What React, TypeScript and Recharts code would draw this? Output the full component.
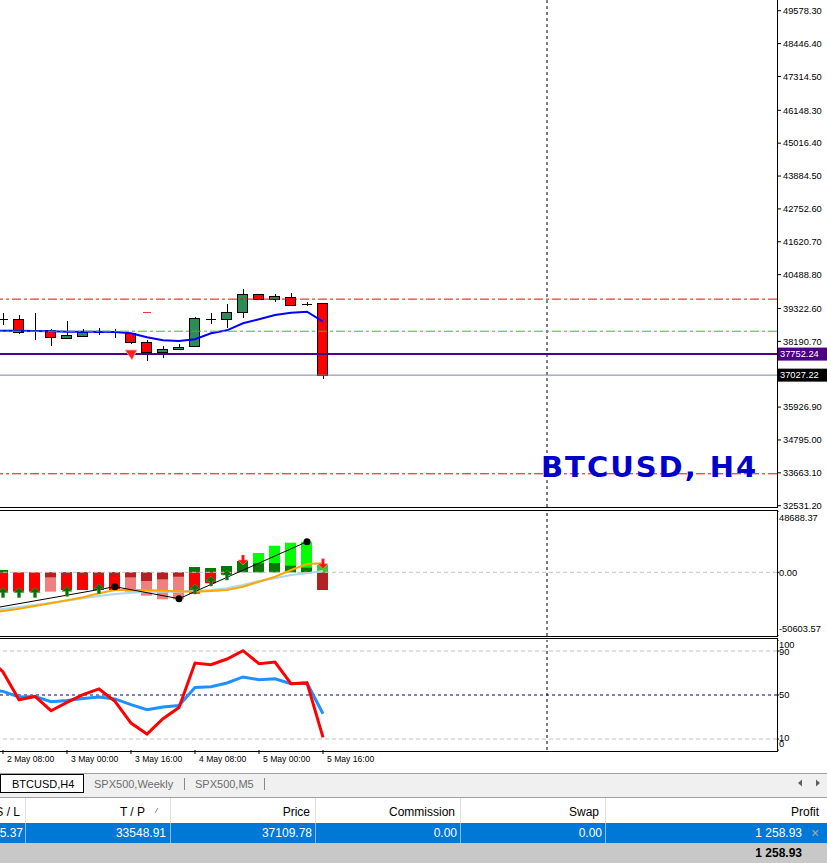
import React from 'react'
import { ComposedChart, Bar, Line, XAxis, YAxis, ReferenceLine, Scatter } from 'recharts'

// H4 bars, index 0 = 2 May 08:00, index -1 is the bar cut at the left edge
const barIndex = [-1, 0, 1, 2, 3, 4, 5, 6, 7, 8, 9, 10, 11, 12, 13, 14, 15, 16, 17, 18, 19, 20]

const opens = [null, 38960, 38951, 38545, 38582, 38283, 38400, 38525, 38510, 38469, 38159, 37825, 37918, 38031, 38960, 38951, 39192, 39812, 39640, 39729, 39470, 39502]
const highs = [null, 39157, 39109, 39178, 38600, 38892, 38617, 38641, 38606, 38480, 38238, 38021, 38090, 39020, 39157, 39478, 39994, 39830, 39812, 39846, 39540, 39502]
const lows = [null, 38754, 38434, 38238, 38042, 38270, 38390, 38410, 38297, 38100, 37525, 37628, 37876, 37987, 38779, 38641, 38985, 39620, 39557, 39409, 39409, 36884]
const closes = [null, 38962, 38503, 38520, 38331, 38400, 38524, 38530, 38500, 38159, 37814, 37918, 37987, 38985, 38975, 39192, 39812, 39640, 39753, 39467, 39480, 37027]
const maValues = [38560, 38558, 38558, 38548, 38537, 38524, 38524, 38524, 38514, 38469, 38331, 38227, 38203, 38262, 38469, 38570, 38813, 38950, 39098, 39178, 39213, 38868]

// small marks on the price window
const dashIdx = [9]
const dashVal = [39192]
const sellIdx = [8]
const sellVal = [37721]

const priceTicks = [49578.3, 48446.4, 47314.5, 46148.3, 45016.4, 43884.5, 42752.6, 41620.7, 40488.8, 39322.6, 38190.7, 35926.9, 34795.0, 33663.1, 32531.2]
const stopLoss = 39645.37
const openLevel = 38540
const askLevel = 37752.24
const bidLevel = 37027.22
const takeProfit = 33630
const vLineIdx = 34

// histogram window
const histCoral = [null, null, null, null, -15410, null, null, null, null, -15410, -18590, -21450, -21450, null, null, null, null, null, null, null, null, null]
const histRed = [null, -15400, -15400, -15400, null, -14060, -14060, -14060, -14060, null, null, null, null, -17000, -8740, null, null, null, null, null, null, null]
const histLime = [null, null, null, null, null, null, null, null, null, null, null, null, null, null, null, null, null, 15330, 21130, 23510, 24300, null]
const histDarkRed = [null, null, null, null, -3970, -2650, -2650, -2650, -2650, -3970, -6910, -5560, -3490, null, null, -2000, null, null, null, null, null, -14060]
const histDarkGreen = [null, 1830, null, null, null, null, null, null, null, null, null, null, null, 4210, 3420, 5000, 8980, 7150, 7390, 5240, 3650, null]
const histLimeGreen = [null, null, null, null, null, null, null, null, null, null, null, null, null, null, null, null, null, null, null, null, null, 5800]
const orangeLine = [-32330, -30740, -28910, -26770, -24620, -22240, -19860, -16680, -14060, -14060, -14060, -14610, -15090, -15410, -14850, -14060, -11440, -7470, -3490, 1830, 6590, 7150]
const blueLine = [-30740, -29150, -27560, -25970, -24150, -22560, -20650, -18830, -17240, -16200, -15410, -15410, -15410, -14850, -14060, -12710, -10090, -6910, -4770, -2140, -790, 1030]
const zigzag = [-29390, null, null, null, null, null, null, null, -11440, null, null, null, -20970, null, null, null, null, null, null, null, 24305, null]
const upArrowIdx = [0, 1, 2, 4, 6, 12, 13, 14]
const upArrowVal = [-16040, -16040, -16040, -15090, -13030, -13260, -6910, -2140]
const downArrowIdx = [15, 20]
const downArrowVal = [9770, 6750]

// oscillator window
const rsiRed = [85, 71, 45.7, 48.7, 35.7, 43.3, 50.3, 55.5, 44.2, 24.5, 14.5, 28.5, 38.7, 79, 77.5, 82.7, 90.3, 78.5, 80, 60.3, 61, 11.5]
const rsiBlue = [55, 53.3, 48.2, 48.7, 43.9, 45.1, 46.9, 48.2, 46.4, 41.2, 36.6, 39.1, 40.5, 56.9, 57.5, 60.9, 66.4, 63.9, 64.8, 60.3, 60.9, 33]

const timeTicks = [0, 4, 8, 12, 16, 20]
const timeLabels = ['2 May 08:00', '3 May 00:00', '3 May 16:00', '4 May 08:00', '5 May 00:00', '5 May 16:00']

const X_DOMAIN: [number, number] = [-0.1875, 48.375]
const FONT = '"Liberation Sans", Arial, sans-serif'

const mainRows = barIndex.map((i, k) => ({ i, open: opens[k], high: highs[k], low: lows[k], close: closes[k], ma: maValues[k] }))
const histRows = barIndex.map((i, k) => ({
  i,
  coral: histCoral[k],
  red: histRed[k],
  lime: histLime[k],
  darkRed: histDarkRed[k],
  darkGreen: histDarkGreen[k],
  limeGreen: histLimeGreen[k],
  orange: orangeLine[k],
  blue: blueLine[k],
  zig: zigzag[k],
}))
const rsiRows = barIndex.map((i, k) => ({ i, red: rsiRed[k], blue: rsiBlue[k] }))

function Candle(props: any) {
  const { x, y, width, height, payload } = props
  if (!payload || payload.high == null || !height) return <g />
  const { open, close, high, low } = payload
  const y0 = Math.min(y, y + height)
  const h = Math.abs(height)
  const py = (v: number) => y0 + ((high - v) / (high - low)) * h
  const cx = Math.round(x + width / 2) + 0.5
  const left = Math.round(x) + 0.5
  const right = left + Math.round(width) - 1
  const top = py(Math.max(open, close))
  const bottom = py(Math.min(open, close))
  const bull = close > open
  return (
    <g shapeRendering="crispEdges">
      <line x1={cx} x2={cx} y1={y0} y2={y0 + h} stroke="#000" />
      {bottom - top < 1.5 ? (
        <line x1={left} x2={right} y1={Math.round(top) + 0.5} y2={Math.round(top) + 0.5} stroke="#000" />
      ) : (
        <rect
          x={left}
          y={Math.round(top) + 0.5}
          width={right - left}
          height={Math.max(1, Math.round(bottom - top))}
          fill={bull ? '#2e8b57' : '#ff0000'}
          stroke="#000"
        />
      )}
    </g>
  )
}

function PriceTag({ viewBox, value, bg }: any) {
  if (!viewBox) return <g />
  const x = viewBox.x + viewBox.width + 1
  const y = viewBox.y
  return (
    <g>
      <rect x={x} y={y - 6.5} width={49} height={13} fill={bg} />
      <text x={x + 2} y={y} dy="0.35em" fontSize={9.3} fontFamily={FONT} fill="#fff">
        {value.toFixed(2)}
      </text>
    </g>
  )
}

function SideTick(props: any) {
  const { x, y, payload, shifts, digits } = props
  const dy = shifts[String(payload.value)] ?? 0
  const label = digits ? Number(payload.value).toFixed(digits) : String(payload.value)
  return (
    <text x={x} y={y + dy} dy="0.35em" fontSize={9.3} fontFamily={FONT} fill="#000">
      {label}
    </text>
  )
}

function TimeTick(props: any) {
  const { x, y, payload } = props
  const k = timeTicks.indexOf(payload.value)
  return (
    <text x={x + 4} y={y + 5.5} fontSize={8.6} fontFamily={FONT} fill="#000">
      {timeLabels[k]}
    </text>
  )
}

function UpArrow({ cx, cy }: any) {
  if (cx == null) return <g />
  return (
    <path
      d={`M${cx} ${cy - 5} L${cx + 5} ${cy} L${cx + 1.5} ${cy} L${cx + 1.5} ${cy + 5} L${cx - 1.5} ${cy + 5} L${cx - 1.5} ${cy} L${cx - 5} ${cy} Z`}
      fill="#0a6e0a"
      stroke="#3aa23a"
      strokeWidth={0.6}
    />
  )
}

function DownArrow({ cx, cy }: any) {
  if (cx == null) return <g />
  return (
    <path
      d={`M${cx} ${cy + 5} L${cx + 5} ${cy} L${cx + 1.5} ${cy} L${cx + 1.5} ${cy - 5} L${cx - 1.5} ${cy - 5} L${cx - 1.5} ${cy} L${cx - 5} ${cy} Z`}
      fill="#ff1010"
      stroke="#ff9090"
      strokeWidth={0.6}
    />
  )
}

function RedDash({ cx, cy }: any) {
  if (cx == null) return <g />
  return <line x1={cx - 4} x2={cx + 4} y1={Math.round(cy) + 0.5} y2={Math.round(cy) + 0.5} stroke="#ff3030" />
}

function SellMark({ cx, cy }: any) {
  if (cx == null) return <g />
  return <path d={`M${cx - 6} ${cy - 5} L${cx + 6} ${cy - 5} L${cx + 1} ${cy + 5} Z`} fill="#ff2020" stroke="#ffb0b0" strokeWidth={0.8} />
}

function ZigDot(props: any) {
  const { cx, cy, value, payload, index } = props
  if (value == null || payload.i < 0 || cx == null) return <g key={`z${index}`} />
  return <circle key={`z${index}`} cx={cx} cy={cy} r={3.5} fill="#000" />
}

function MainChart() {
  return (
    <ComposedChart width={827} height={512} data={mainRows} margin={{ top: 0, right: 0, bottom: 5, left: 0 }}>
      <XAxis type="number" dataKey="i" domain={X_DOMAIN} allowDataOverflow hide />
      <YAxis
        orientation="right"
        type="number"
        domain={[32486, 49947]}
        allowDataOverflow
        ticks={priceTicks}
        interval={0}
        width={50}
        tickSize={4}
        tickMargin={2}
        axisLine={false}
        tickLine={{ stroke: '#000' }}
        tick={{ fontSize: 9.3, fontFamily: FONT, fill: '#000' }}
        tickFormatter={(v: number) => v.toFixed(2)}
      />
      <ReferenceLine x={vLineIdx} stroke="#000" strokeDasharray="3 3" />
      <Bar
        dataKey={(d: any) => (d.high == null ? null : [d.low, d.high])}
        barSize={11}
        shape={(p: any) => <Candle {...p} />}
        isAnimationActive={false}
      />
      <Line type="linear" dataKey="ma" stroke="#0000ff" strokeWidth={2} dot={false} isAnimationActive={false} />
      <ReferenceLine y={stopLoss} stroke="#ff0000" strokeDasharray="9 3 3 3" />
      <ReferenceLine y={openLevel} stroke="#22cc22" strokeDasharray="9 3 3 3" />
      <ReferenceLine y={takeProfit} stroke="#ff0000" strokeDasharray="9 3 3 3" />
      <ReferenceLine y={bidLevel} stroke="#778899" label={(p: any) => <PriceTag {...p} value={bidLevel} bg="#000" />} />
      <ReferenceLine y={askLevel} stroke="#4b0082" strokeWidth={2} label={(p: any) => <PriceTag {...p} value={askLevel} bg="#4b0082" />} />
      <Scatter data={dashIdx.map((i, k) => ({ i, v: dashVal[k] }))} dataKey="v" shape={RedDash} isAnimationActive={false} />
      <Scatter data={sellIdx.map((i, k) => ({ i, v: sellVal[k] }))} dataKey="v" shape={SellMark} isAnimationActive={false} />
    </ComposedChart>
  )
}

function HistChart() {
  const ids = ['a', 'b', 'c', 'd', 'e', 'f']
  return (
    <ComposedChart width={827} height={125} data={histRows} margin={{ top: 0, right: 0, bottom: 0, left: 0 }}>
      {ids.map(id => (
        <XAxis key={id} xAxisId={id} type="number" dataKey="i" domain={X_DOMAIN} allowDataOverflow hide />
      ))}
      <YAxis
        orientation="right"
        type="number"
        domain={[-50603.57, 48688.37]}
        allowDataOverflow
        ticks={[48688.37, 0, -50603.57]}
        interval={0}
        width={50}
        tickSize={2}
        tickMargin={0}
        axisLine={false}
        tickLine={{ stroke: '#000' }}
        tick={<SideTick shifts={{ '48688.37': 7, '-50603.57': -7 }} digits={2} />}
      />
      <ReferenceLine xAxisId="a" y={0} stroke="#c0c0c0" strokeDasharray="4 3" />
      <ReferenceLine xAxisId="a" x={vLineIdx} stroke="#000" strokeDasharray="3 3" />
      <Bar xAxisId="a" dataKey="coral" fill="#f08080" barSize={11} isAnimationActive={false} />
      <Bar xAxisId="b" dataKey="red" fill="#ff0000" barSize={11} isAnimationActive={false} />
      <Bar xAxisId="c" dataKey="lime" fill="#00ff00" barSize={11} isAnimationActive={false} />
      <Bar xAxisId="d" dataKey="darkRed" fill="#b22222" barSize={11} isAnimationActive={false} />
      <Bar xAxisId="e" dataKey="darkGreen" fill="#007a00" barSize={11} isAnimationActive={false} />
      <Bar xAxisId="f" dataKey="limeGreen" fill="#32cd32" barSize={11} isAnimationActive={false} />
      <Line xAxisId="a" type="linear" dataKey="blue" stroke="#add8e6" strokeWidth={2} dot={false} isAnimationActive={false} />
      <Line xAxisId="a" type="linear" dataKey="orange" stroke="#ffa500" strokeWidth={2} dot={false} isAnimationActive={false} />
      <Line xAxisId="a" type="linear" dataKey="zig" stroke="#000" strokeWidth={1} connectNulls dot={ZigDot} isAnimationActive={false} />
      <Scatter xAxisId="a" data={upArrowIdx.map((i, k) => ({ i, v: upArrowVal[k] }))} dataKey="v" shape={UpArrow} isAnimationActive={false} />
      <Scatter xAxisId="a" data={downArrowIdx.map((i, k) => ({ i, v: downArrowVal[k] }))} dataKey="v" shape={DownArrow} isAnimationActive={false} />
    </ComposedChart>
  )
}

function OscChart() {
  return (
    <ComposedChart width={827} height={130} data={rsiRows} margin={{ top: 0, right: 0, bottom: 0, left: 0 }}>
      <XAxis
        type="number"
        dataKey="i"
        domain={X_DOMAIN}
        allowDataOverflow
        ticks={timeTicks}
        interval={0}
        height={20}
        tickSize={4}
        tickMargin={2}
        axisLine={false}
        tickLine={{ stroke: '#000' }}
        tick={<TimeTick />}
      />
      <YAxis
        orientation="right"
        type="number"
        domain={[0, 100]}
        allowDataOverflow
        ticks={[100, 90, 50, 10, 0]}
        interval={0}
        width={50}
        tickSize={2}
        tickMargin={0}
        axisLine={false}
        tickLine={{ stroke: '#000' }}
        tick={<SideTick shifts={{ '100': 5, '90': 1, '10': -1, '0': -6 }} digits={0} />}
      />
      <ReferenceLine y={90} stroke="#c0c0c0" strokeDasharray="4 3" />
      <ReferenceLine y={10} stroke="#c0c0c0" strokeDasharray="4 3" />
      <ReferenceLine y={50} stroke="#000080" strokeDasharray="3 3" />
      <ReferenceLine x={vLineIdx} stroke="#000" strokeDasharray="3 3" />
      <Line type="linear" dataKey="blue" stroke="#1e90ff" strokeWidth={3} dot={false} isAnimationActive={false} />
      <Line type="linear" dataKey="red" stroke="#ff0000" strokeWidth={3} dot={false} isAnimationActive={false} />
    </ComposedChart>
  )
}

const colSeps = [25.5, 170.5, 315.5, 460.5, 605.5]
const headers = [
  { t: 'S / L', x: 20 },
  { t: 'T / P', x: 145 },
  { t: 'Price', x: 310 },
  { t: 'Commission', x: 455 },
  { t: 'Swap', x: 599 },
  { t: 'Profit', x: 819 },
]
const rowValues = [
  { t: '5.37', x: 23 },
  { t: '33548.91', x: 166 },
  { t: '37109.78', x: 312 },
  { t: '0.00', x: 457 },
  { t: '0.00', x: 602 },
  { t: '1 258.93', x: 802 },
]

function Overlay() {
  return (
    <svg width={827} height={863} style={{ position: 'absolute', left: 0, top: 0, pointerEvents: 'none' }}>
      <text x={541} y={477} fontFamily='"DejaVu Sans", sans-serif' fontWeight="bold" fontSize={29} letterSpacing={2} fill="#0000cd">
        BTCUSD, H4
      </text>
      {/* terminal tabs */}
      <rect x={0} y={773} width={827} height={24} fill="#f0f0f0" />
      <line x1={0} x2={827} y1={773.5} y2={773.5} stroke="#a0a0a0" />
      <rect x={0.5} y={774.5} width={83} height={18} fill="#fff" stroke="#000" />
      <text x={12} y={787.5} fontSize={11} fontFamily={FONT} fill="#000">BTCUSD,H4</text>
      <text x={94} y={787.5} fontSize={11} fontFamily={FONT} fill="#6d6d6d">SPX500,Weekly</text>
      <line x1={184.5} x2={184.5} y1={778} y2={790} stroke="#8a8a8a" />
      <text x={195} y={787.5} fontSize={11} fontFamily={FONT} fill="#6d6d6d">SPX500,M5</text>
      <line x1={264.5} x2={264.5} y1={778} y2={790} stroke="#8a8a8a" />
      <path d="M802 779.5 L798 783 L802 786.5 Z" fill="#606060" />
      <path d="M816 779.5 L820 783 L816 786.5 Z" fill="#606060" />
      <line x1={0} x2={827} y1={797.5} y2={797.5} stroke="#a0a0a0" />
      {/* trade table */}
      <rect x={0} y={798} width={827} height={25} fill="#fff" />
      {colSeps.map(x => (
        <line key={`h${x}`} x1={x} x2={x} y1={798} y2={823} stroke="#e0e0e0" />
      ))}
      {headers.map(h => (
        <text key={h.t} x={h.x} y={815.5} textAnchor="end" fontSize={12} fontFamily={FONT} fill="#000">
          {h.t}
        </text>
      ))}
      <line x1={155} x2={158} y1={813} y2={808} stroke="#888" />
      <rect x={0} y={823} width={827} height={20} fill="#0078d7" />
      {colSeps.map(x => (
        <line key={`r${x}`} x1={x} x2={x} y1={823} y2={843} stroke="#8cbde9" />
      ))}
      {rowValues.map((r, k) => (
        <text key={k} x={r.x} y={837} textAnchor="end" fontSize={12} fontFamily={FONT} fill="#fff">
          {r.t}
        </text>
      ))}
      <text x={815} y={838} textAnchor="middle" fontSize={14} fontFamily={FONT} fill="#a8a8a8">×</text>
      <rect x={0} y={843} width={827} height={20} fill="#c8c8c8" />
      <text x={802} y={857} textAnchor="end" fontSize={12} fontWeight="bold" fontFamily={FONT} fill="#000">1 258.93</text>
    </svg>
  )
}

export default function App() {
  const box = (top: number, height: number) => ({
    position: 'absolute' as const,
    left: -1,
    top,
    width: 777,
    height,
    border: '1px solid #000',
  })
  return (
    <div style={{ position: 'absolute', left: 0, top: 0, width: 827, height: 863, background: '#fff', overflow: 'hidden', fontFamily: FONT }}>
      <div style={{ position: 'absolute', left: 0, top: 0 }}>
        <MainChart />
      </div>
      <div style={{ position: 'absolute', left: 0, top: 511 }}>
        <HistChart />
      </div>
      <div style={{ position: 'absolute', left: 0, top: 640 }}>
        <OscChart />
      </div>
      <div style={box(-1, 507)} />
      <div style={box(510, 125)} />
      <div style={box(638, 112)} />
      <Overlay />
    </div>
  )
}
